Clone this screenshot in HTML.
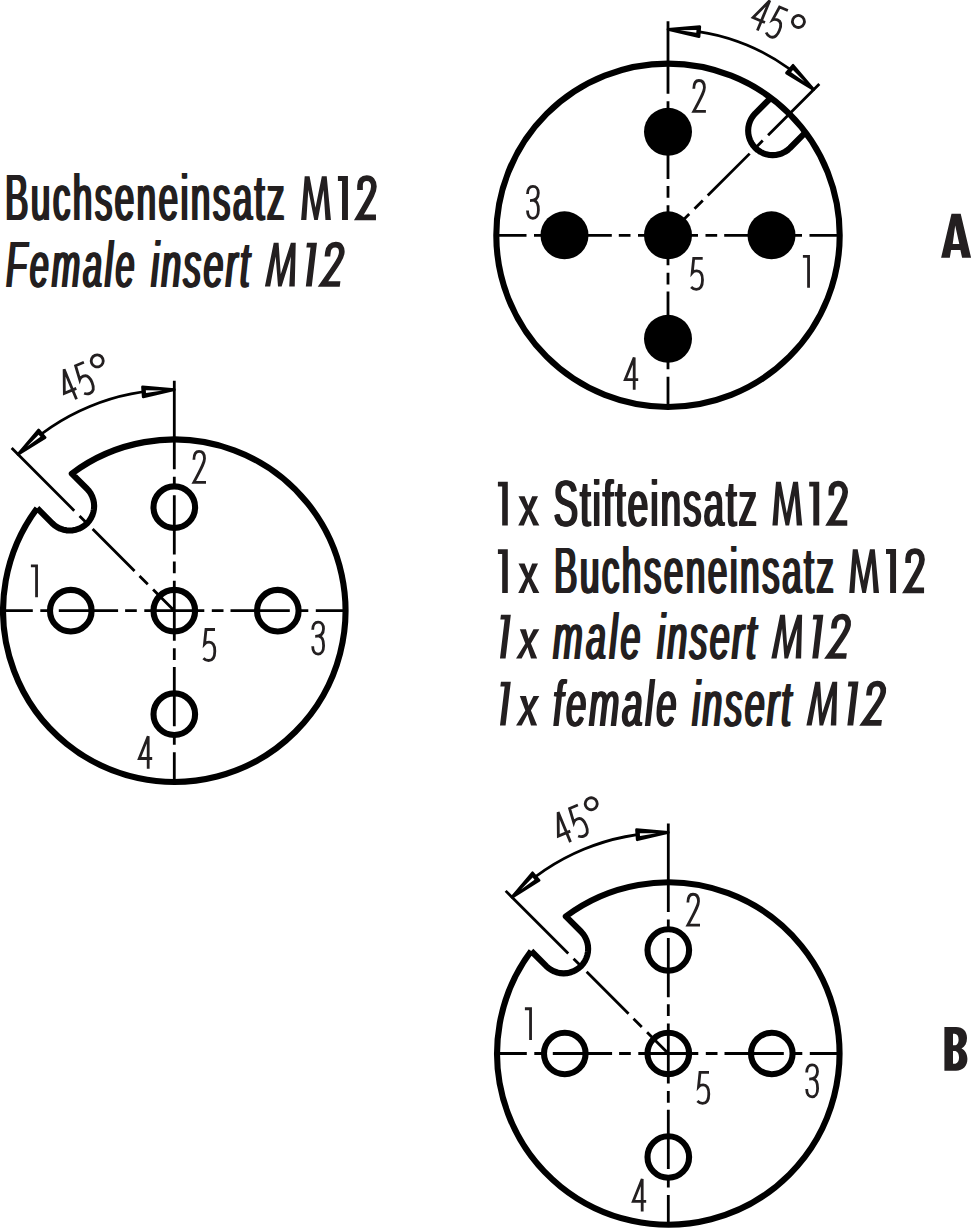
<!DOCTYPE html>
<html><head><meta charset="utf-8"><style>
html,body{margin:0;padding:0;background:#fff;width:972px;height:1229px;overflow:hidden}
svg{display:block}
</style></head><body>
<svg width="972" height="1229" viewBox="0 0 972 1229">
<g font-family="Liberation Sans, sans-serif" fill="#231f20"><text transform="translate(4.00,220.00) scale(0.5440,1)" font-size="64" letter-spacing="4.739">Buchseneinsatz</text><text transform="translate(4.77,220.00) scale(0.5440,1)" font-size="64" letter-spacing="4.739">Buchseneinsatz</text><text transform="translate(5.53,220.00) scale(0.5440,1)" font-size="64" letter-spacing="4.739">Buchseneinsatz</text><text transform="translate(6.30,220.00) scale(0.5440,1)" font-size="64" letter-spacing="4.739">Buchseneinsatz</text><text transform="translate(5.00,286.60) scale(0.5289,1)" font-size="64" letter-spacing="5.820" font-style="italic">Female</text><text transform="translate(5.77,286.60) scale(0.5289,1)" font-size="64" letter-spacing="5.820" font-style="italic">Female</text><text transform="translate(6.53,286.60) scale(0.5289,1)" font-size="64" letter-spacing="5.820" font-style="italic">Female</text><text transform="translate(7.30,286.60) scale(0.5289,1)" font-size="64" letter-spacing="5.820" font-style="italic">Female</text><text transform="translate(150.00,286.60) scale(0.5529,1)" font-size="64" letter-spacing="4.328" font-style="italic">insert</text><text transform="translate(150.77,286.60) scale(0.5529,1)" font-size="64" letter-spacing="4.328" font-style="italic">insert</text><text transform="translate(151.53,286.60) scale(0.5529,1)" font-size="64" letter-spacing="4.328" font-style="italic">insert</text><text transform="translate(152.30,286.60) scale(0.5529,1)" font-size="64" letter-spacing="4.328" font-style="italic">insert</text><text transform="translate(552.50,525.60) scale(0.5715,1)" font-size="64" letter-spacing="3.880">Stifteinsatz</text><text transform="translate(553.27,525.60) scale(0.5715,1)" font-size="64" letter-spacing="3.880">Stifteinsatz</text><text transform="translate(554.03,525.60) scale(0.5715,1)" font-size="64" letter-spacing="3.880">Stifteinsatz</text><text transform="translate(554.80,525.60) scale(0.5715,1)" font-size="64" letter-spacing="3.880">Stifteinsatz</text><text transform="translate(553.00,593.00) scale(0.5449,1)" font-size="64" letter-spacing="4.739">Buchseneinsatz</text><text transform="translate(553.77,593.00) scale(0.5449,1)" font-size="64" letter-spacing="4.739">Buchseneinsatz</text><text transform="translate(554.53,593.00) scale(0.5449,1)" font-size="64" letter-spacing="4.739">Buchseneinsatz</text><text transform="translate(555.30,593.00) scale(0.5449,1)" font-size="64" letter-spacing="4.739">Buchseneinsatz</text><text transform="translate(552.00,658.60) scale(0.5535,1)" font-size="64" letter-spacing="6.305" font-style="italic">male</text><text transform="translate(552.77,658.60) scale(0.5535,1)" font-size="64" letter-spacing="6.305" font-style="italic">male</text><text transform="translate(553.53,658.60) scale(0.5535,1)" font-size="64" letter-spacing="6.305" font-style="italic">male</text><text transform="translate(554.30,658.60) scale(0.5535,1)" font-size="64" letter-spacing="6.305" font-style="italic">male</text><text transform="translate(656.00,658.60) scale(0.5556,1)" font-size="64" letter-spacing="4.328" font-style="italic">insert</text><text transform="translate(656.77,658.60) scale(0.5556,1)" font-size="64" letter-spacing="4.328" font-style="italic">insert</text><text transform="translate(657.53,658.60) scale(0.5556,1)" font-size="64" letter-spacing="4.328" font-style="italic">insert</text><text transform="translate(658.30,658.60) scale(0.5556,1)" font-size="64" letter-spacing="4.328" font-style="italic">insert</text><text transform="translate(552.00,725.50) scale(0.5647,1)" font-size="64" letter-spacing="5.239" font-style="italic">female</text><text transform="translate(552.77,725.50) scale(0.5647,1)" font-size="64" letter-spacing="5.239" font-style="italic">female</text><text transform="translate(553.53,725.50) scale(0.5647,1)" font-size="64" letter-spacing="5.239" font-style="italic">female</text><text transform="translate(554.30,725.50) scale(0.5647,1)" font-size="64" letter-spacing="5.239" font-style="italic">female</text><text transform="translate(691.00,725.50) scale(0.5556,1)" font-size="64" letter-spacing="4.328" font-style="italic">insert</text><text transform="translate(691.77,725.50) scale(0.5556,1)" font-size="64" letter-spacing="4.328" font-style="italic">insert</text><text transform="translate(692.53,725.50) scale(0.5556,1)" font-size="64" letter-spacing="4.328" font-style="italic">insert</text><text transform="translate(693.30,725.50) scale(0.5556,1)" font-size="64" letter-spacing="4.328" font-style="italic">insert</text><g transform="translate(301.10,220.00)"><path d="M0 0L3.6 -43.81L8.47 -43.81L14.39 -12.27L20.74 -43.81L25.61 -43.81L29.84 0L24.34 0L22.43 -30.05L16.72 0L13.12 0L7.2 -30.05L5.29 0ZM36.81 -43.97H46.84V0H40.92V-39.09H36.81Z"/><path d="M58.92 -30.08V-34.5C58.92 -39.5 61.5 -41.9 65.6 -41.9C70 -41.9 72.8 -38.5 72.8 -33.5C72.8 -29 71 -25 57.8 -2.56H74.87" fill="none" stroke="#231f20" stroke-width="5.66" stroke-miterlimit="10"/></g><g transform="translate(264.90,286.60) skewX(-6.8)"><path d="M0 0L3.6 -43.81L8.47 -43.81L14.39 -12.27L20.74 -43.81L25.61 -43.81L29.84 0L24.34 0L22.43 -30.05L16.72 0L13.12 0L7.2 -30.05L5.29 0ZM36.81 -43.97H46.84V0H40.92V-39.09H36.81Z"/><path d="M58.92 -30.08V-34.5C58.92 -39.5 61.5 -41.9 65.6 -41.9C70 -41.9 72.8 -38.5 72.8 -33.5C72.8 -29 71 -25 57.8 -2.56H74.87" fill="none" stroke="#231f20" stroke-width="5.66" stroke-miterlimit="10"/></g><g transform="translate(772.40,525.60)"><path d="M0 0L3.6 -43.81L8.47 -43.81L14.39 -12.27L20.74 -43.81L25.61 -43.81L29.84 0L24.34 0L22.43 -30.05L16.72 0L13.12 0L7.2 -30.05L5.29 0ZM36.81 -43.97H46.84V0H40.92V-39.09H36.81Z"/><path d="M58.92 -30.08V-34.5C58.92 -39.5 61.5 -41.9 65.6 -41.9C70 -41.9 72.8 -38.5 72.8 -33.5C72.8 -29 71 -25 57.8 -2.56H74.87" fill="none" stroke="#231f20" stroke-width="5.66" stroke-miterlimit="10"/></g><g transform="translate(849.20,593.00)"><path d="M0 0L3.6 -43.81L8.47 -43.81L14.39 -12.27L20.74 -43.81L25.61 -43.81L29.84 0L24.34 0L22.43 -30.05L16.72 0L13.12 0L7.2 -30.05L5.29 0ZM36.81 -43.97H46.84V0H40.92V-39.09H36.81Z"/><path d="M58.92 -30.08V-34.5C58.92 -39.5 61.5 -41.9 65.6 -41.9C70 -41.9 72.8 -38.5 72.8 -33.5C72.8 -29 71 -25 57.8 -2.56H74.87" fill="none" stroke="#231f20" stroke-width="5.66" stroke-miterlimit="10"/></g><g transform="translate(771.30,658.60) skewX(-6.8)"><path d="M0 0L3.6 -43.81L8.47 -43.81L14.39 -12.27L20.74 -43.81L25.61 -43.81L29.84 0L24.34 0L22.43 -30.05L16.72 0L13.12 0L7.2 -30.05L5.29 0ZM36.81 -43.97H46.84V0H40.92V-39.09H36.81Z"/><path d="M58.92 -30.08V-34.5C58.92 -39.5 61.5 -41.9 65.6 -41.9C70 -41.9 72.8 -38.5 72.8 -33.5C72.8 -29 71 -25 57.8 -2.56H74.87" fill="none" stroke="#231f20" stroke-width="5.66" stroke-miterlimit="10"/></g><g transform="translate(806.40,725.50) skewX(-6.8)"><path d="M0 0L3.6 -43.81L8.47 -43.81L14.39 -12.27L20.74 -43.81L25.61 -43.81L29.84 0L24.34 0L22.43 -30.05L16.72 0L13.12 0L7.2 -30.05L5.29 0ZM36.81 -43.97H46.84V0H40.92V-39.09H36.81Z"/><path d="M58.92 -30.08V-34.5C58.92 -39.5 61.5 -41.9 65.6 -41.9C70 -41.9 72.8 -38.5 72.8 -33.5C72.8 -29 71 -25 57.8 -2.56H74.87" fill="none" stroke="#231f20" stroke-width="5.66" stroke-miterlimit="10"/></g><g transform="translate(497.90,525.60)"><path d="M0 -43.87H9.89V0H4.28V-39.06H0ZM20.59 -29.43L26.75 -29.43L30.49 -19.8L34.24 -29.43L40.12 -29.43L33.44 -14.98L41.46 0L35.31 0L30.49 -11.24L25.95 0L20.33 0L27.82 -14.98Z"/></g><g transform="translate(497.90,593.00)"><path d="M0 -43.87H9.89V0H4.28V-39.06H0ZM20.59 -29.43L26.75 -29.43L30.49 -19.8L34.24 -29.43L40.12 -29.43L33.44 -14.98L41.46 0L35.31 0L30.49 -11.24L25.95 0L20.33 0L27.82 -14.98Z"/></g><g transform="translate(495.70,658.60) skewX(-6.8)"><path d="M0 -43.87H9.89V0H4.28V-39.06H0ZM20.59 -29.43L26.75 -29.43L30.49 -19.8L34.24 -29.43L40.12 -29.43L33.44 -14.98L41.46 0L35.31 0L30.49 -11.24L25.95 0L20.33 0L27.82 -14.98Z"/></g><g transform="translate(495.70,725.50) skewX(-6.8)"><path d="M0 -43.87H9.89V0H4.28V-39.06H0ZM20.59 -29.43L26.75 -29.43L30.49 -19.8L34.24 -29.43L40.12 -29.43L33.44 -14.98L41.46 0L35.31 0L30.49 -11.24L25.95 0L20.33 0L27.82 -14.98Z"/></g></g>
<path d="M941.1 257.8L951.5 213.7L960.7 213.7L971.1 257.8L962.1 257.8L960.4 250L951.1 250L949.8 257.8Z M955.2 225.6L952.7 243.9L959.3 243.9Z" fill="#231f20" fill-rule="evenodd"/>
<path d="M944.4 1026.9H956C963 1026.9 967 1031 967 1038C967 1043 965 1046.5 961.5 1048.5C965.5 1050.5 967.4 1054.5 967.4 1059C967.4 1066 963 1070.7 956 1070.7H944.4Z M953 1033.7V1045.2H954.5C957 1045.2 958.6 1043 958.6 1039.4C958.6 1035.8 957 1033.7 954.5 1033.7Z M953 1051.1V1063.7H954.5C957.2 1063.7 959 1061.3 959 1057.4C959 1053.5 957.2 1051.1 954.5 1051.1Z" fill="#231f20" fill-rule="evenodd"/>
<path d="M668.00 235.30L698.00 235.30M705.50 235.30L717.20 235.30M724.20 235.30L783.50 235.30M793.00 235.30L802.00 235.30M809.50 235.30L839.70 235.30M668.00 235.30L638.00 235.30M630.50 235.30L618.80 235.30M611.80 235.30L552.50 235.30M543.00 235.30L534.00 235.30M526.50 235.30L496.30 235.30M668.00 235.30L668.00 265.30M668.00 272.80L668.00 284.50M668.00 291.50L668.00 350.80M668.00 360.30L668.00 369.30M668.00 376.80L668.00 407.00M668.00 235.30L668.00 205.30M668.00 197.80L668.00 186.10M668.00 179.10L668.00 119.80M668.00 110.30L668.00 101.30M668.00 93.80L668.00 21.30M668.00 235.30L689.21 214.09M694.52 208.78L702.79 200.51M707.74 195.56L749.67 153.63M756.39 146.91L762.75 140.55M768.06 135.24L819.32 83.98" stroke="#000" stroke-width="2.8" fill="none"/>
<circle cx="668.00" cy="235.30" r="171.70" fill="none" stroke="#000" stroke-width="6.1"/>
<path d="M805.49 132.46L789.98 147.97L787.57 150.09L784.90 151.87L782.03 153.28L778.99 154.31L775.85 154.94L772.65 155.15L769.45 154.94L766.31 154.31L763.28 153.28L760.40 151.87L757.74 150.09L755.33 147.97L753.21 145.56L751.43 142.90L750.02 140.02L748.99 136.99L748.36 133.85L748.15 130.65L748.36 127.45L748.99 124.31L750.02 121.27L751.43 118.40L753.21 115.73L755.33 113.32L770.84 97.81" fill="none" stroke="#000" stroke-width="6.1" stroke-linejoin="round"/>
<circle cx="668.00" cy="131.80" r="24" fill="#000"/>
<circle cx="771.50" cy="235.30" r="24" fill="#000"/>
<circle cx="668.00" cy="338.80" r="24" fill="#000"/>
<circle cx="564.50" cy="235.30" r="24" fill="#000"/>
<circle cx="668.00" cy="235.30" r="24" fill="#000"/>
<path d="M668.00 29.30A206.00 206.00 0 0 1 813.66 89.64" fill="none" stroke="#000" stroke-width="2.8"/>
<path d="M668.00 29.30L699.00 36.69L699.76 26.72Z" fill="#000" stroke="#000" stroke-width="2.8" stroke-linejoin="round"/>
<path d="M679.92 30.21L696.28 32.87L696.49 30.08Z" fill="#fff"/>
<path d="M813.66 89.64L793.03 65.35L786.52 72.94Z" fill="#000" stroke="#000" stroke-width="2.8" stroke-linejoin="round"/>
<path d="M804.59 81.85L792.97 70.04L791.14 72.16Z" fill="#fff"/>
<g fill="none" stroke="#231f20" stroke-width="2.8" stroke-linejoin="miter"><path transform="translate(691.90,79.05)" d="M1.9 9.8C1.9 4 4 1.45 7 1.45C10.5 1.45 12.5 4 12.5 8.5C12.5 12 11 15.5 1.8 32.35L14 32.35"/><path transform="translate(526.00,185.00)" d="M1.5 9C1.5 4 3.8 1.4 6.9 1.4C10.2 1.4 12.3 4 12.3 8C12.3 12.5 10.5 15.6 4 15.6M8 15.6C11 16 12.4 19 12.4 25C12.4 30.5 10 33.4 6.9 33.4C3.8 33.4 1.5 31 1.5 25.5"/><path transform="translate(690.30,256.50)" d="M12.4 1.8H3.4L1.9 16.3C3 15 4.5 14.4 6.5 14.4C10.5 14.4 12.2 18 12.2 23.5C12.2 29.5 9.8 32.8 6 32.8C4 32.8 2.3 32 0.8 30.5"/><path transform="translate(802.90,255.00)" d="M0 1.35H5.65V32.7"/><path transform="translate(623.80,356.60)" d="M14.4 23H1.45L10.4 0.8V33.2"/><g transform="translate(760.50,-4.20) rotate(22.5)"><path d="M14.4 23H1.45L10.4 0.8V33.2"/><path transform="translate(18.5,1.3)" d="M12.4 1.8H3.4L1.9 16.3C3 15 4.5 14.4 6.5 14.4C10.5 14.4 12.2 18 12.2 23.5C12.2 29.5 9.8 32.8 6 32.8C4 32.8 2.3 32 0.8 30.5"/><circle cx="44.85" cy="9.2" r="6"/></g></g>
<path d="M174.30 610.70L204.30 610.70M211.80 610.70L223.50 610.70M230.50 610.70L289.80 610.70M299.30 610.70L308.30 610.70M315.80 610.70L345.50 610.70M174.30 610.70L144.30 610.70M136.80 610.70L125.10 610.70M118.10 610.70L58.80 610.70M49.30 610.70L40.30 610.70M32.80 610.70L3.10 610.70M174.30 610.70L174.30 640.70M174.30 648.20L174.30 659.90M174.30 666.90L174.30 726.20M174.30 735.70L174.30 744.70M174.30 752.20L174.30 781.90M174.30 610.70L174.30 580.70M174.30 573.20L174.30 561.50M174.30 554.50L174.30 495.20M174.30 485.70L174.30 476.70M174.30 469.20L174.30 380.70M174.30 610.70L153.09 589.49M147.78 584.18L139.51 575.91M134.56 570.96L92.63 529.03M85.91 522.31L79.55 515.95M74.24 510.64L11.67 448.07" stroke="#000" stroke-width="2.8" fill="none"/>
<path d="M37.17 508.21A171.20 171.20 0 1 0 71.81 473.57L86.97 488.72L89.09 491.13L90.87 493.80L92.28 496.67L93.31 499.71L93.94 502.85L94.15 506.05L93.94 509.25L93.31 512.39L92.28 515.42L90.87 518.30L89.09 520.96L86.97 523.37L84.56 525.49L81.90 527.27L79.02 528.68L75.99 529.71L72.85 530.34L69.65 530.55L66.45 530.34L63.31 529.71L60.27 528.68L57.40 527.27L54.73 525.49L52.32 523.37L37.17 508.21" fill="none" stroke="#000" stroke-width="6.1" stroke-linejoin="round"/>
<circle cx="174.30" cy="507.20" r="20.8" fill="none" stroke="#000" stroke-width="6.1"/>
<circle cx="277.80" cy="610.70" r="20.8" fill="none" stroke="#000" stroke-width="6.1"/>
<circle cx="174.30" cy="714.20" r="20.8" fill="none" stroke="#000" stroke-width="6.1"/>
<circle cx="70.80" cy="610.70" r="20.8" fill="none" stroke="#000" stroke-width="6.1"/>
<circle cx="174.30" cy="610.70" r="20.8" fill="none" stroke="#000" stroke-width="6.1"/>
<path d="M174.30 389.70A221.00 221.00 0 0 0 18.03 454.43" fill="none" stroke="#000" stroke-width="2.8"/>
<path d="M174.30 389.70L142.55 386.95L143.26 396.93Z" fill="#000" stroke="#000" stroke-width="2.8" stroke-linejoin="round"/>
<path d="M162.37 390.55L145.80 390.33L146.00 393.12Z" fill="#fff"/>
<path d="M18.03 454.43L45.09 437.59L38.54 430.04Z" fill="#000" stroke="#000" stroke-width="2.8" stroke-linejoin="round"/>
<path d="M27.07 446.60L40.46 436.84L38.63 434.72Z" fill="#fff"/>
<g fill="none" stroke="#231f20" stroke-width="2.8" stroke-linejoin="miter"><path transform="translate(30.90,564.60)" d="M0 1.35H5.65V32.7"/><path transform="translate(192.00,450.00)" d="M1.9 9.8C1.9 4 4 1.45 7 1.45C10.5 1.45 12.5 4 12.5 8.5C12.5 12 11 15.5 1.8 32.35L14 32.35"/><path transform="translate(311.20,620.70)" d="M1.5 9C1.5 4 3.8 1.4 6.9 1.4C10.2 1.4 12.3 4 12.3 8C12.3 12.5 10.5 15.6 4 15.6M8 15.6C11 16 12.4 19 12.4 25C12.4 30.5 10 33.4 6.9 33.4C3.8 33.4 1.5 31 1.5 25.5"/><path transform="translate(202.60,627.70)" d="M12.4 1.8H3.4L1.9 16.3C3 15 4.5 14.4 6.5 14.4C10.5 14.4 12.2 18 12.2 23.5C12.2 29.5 9.8 32.8 6 32.8C4 32.8 2.3 32 0.8 30.5"/><path transform="translate(137.80,735.50)" d="M14.4 23H1.45L10.4 0.8V33.2"/><g transform="translate(54.20,372.60) rotate(-22.5)"><path d="M14.4 23H1.45L10.4 0.8V33.2"/><path transform="translate(19,0)" d="M12.4 1.8H3.4L1.9 16.3C3 15 4.5 14.4 6.5 14.4C10.5 14.4 12.2 18 12.2 23.5C12.2 29.5 9.8 32.8 6 32.8C4 32.8 2.3 32 0.8 30.5"/><circle cx="44.2" cy="5.7" r="6"/></g></g>
<path d="M668.30 1053.50L698.30 1053.50M705.80 1053.50L717.50 1053.50M724.50 1053.50L783.80 1053.50M793.30 1053.50L802.30 1053.50M809.80 1053.50L839.50 1053.50M668.30 1053.50L638.30 1053.50M630.80 1053.50L619.10 1053.50M612.10 1053.50L552.80 1053.50M543.30 1053.50L534.30 1053.50M526.80 1053.50L497.10 1053.50M668.30 1053.50L668.30 1083.50M668.30 1091.00L668.30 1102.70M668.30 1109.70L668.30 1169.00M668.30 1178.50L668.30 1187.50M668.30 1195.00L668.30 1224.70M668.30 1053.50L668.30 1023.50M668.30 1016.00L668.30 1004.30M668.30 997.30L668.30 938.00M668.30 928.50L668.30 919.50M668.30 912.00L668.30 823.50M668.30 1053.50L647.09 1032.29M641.78 1026.98L633.51 1018.71M628.56 1013.76L586.63 971.83M579.91 965.11L573.55 958.75M568.24 953.44L505.67 890.87" stroke="#000" stroke-width="2.8" fill="none"/>
<path d="M531.17 951.01A171.20 171.20 0 1 0 565.81 916.37L580.97 931.52L583.09 933.93L584.87 936.60L586.28 939.47L587.31 942.51L587.94 945.65L588.15 948.85L587.94 952.05L587.31 955.19L586.28 958.22L584.87 961.10L583.09 963.76L580.97 966.17L578.56 968.29L575.90 970.07L573.02 971.48L569.99 972.51L566.85 973.14L563.65 973.35L560.45 973.14L557.31 972.51L554.27 971.48L551.40 970.07L548.73 968.29L546.32 966.17L531.17 951.01" fill="none" stroke="#000" stroke-width="6.1" stroke-linejoin="round"/>
<circle cx="668.30" cy="950.00" r="20.8" fill="none" stroke="#000" stroke-width="6.1"/>
<circle cx="771.80" cy="1053.50" r="20.8" fill="none" stroke="#000" stroke-width="6.1"/>
<circle cx="668.30" cy="1157.00" r="20.8" fill="none" stroke="#000" stroke-width="6.1"/>
<circle cx="564.80" cy="1053.50" r="20.8" fill="none" stroke="#000" stroke-width="6.1"/>
<circle cx="668.30" cy="1053.50" r="20.8" fill="none" stroke="#000" stroke-width="6.1"/>
<path d="M668.30 832.50A221.00 221.00 0 0 0 512.03 897.23" fill="none" stroke="#000" stroke-width="2.8"/>
<path d="M668.30 832.50L636.55 829.75L637.26 839.73Z" fill="#000" stroke="#000" stroke-width="2.8" stroke-linejoin="round"/>
<path d="M656.37 833.35L639.80 833.13L640.00 835.92Z" fill="#fff"/>
<path d="M512.03 897.23L539.09 880.39L532.54 872.84Z" fill="#000" stroke="#000" stroke-width="2.8" stroke-linejoin="round"/>
<path d="M521.07 889.40L534.46 879.64L532.63 877.52Z" fill="#fff"/>
<g fill="none" stroke="#231f20" stroke-width="2.8" stroke-linejoin="miter"><path transform="translate(524.90,1007.40)" d="M0 1.35H5.65V32.7"/><path transform="translate(686.00,892.80)" d="M1.9 9.8C1.9 4 4 1.45 7 1.45C10.5 1.45 12.5 4 12.5 8.5C12.5 12 11 15.5 1.8 32.35L14 32.35"/><path transform="translate(805.20,1063.50)" d="M1.5 9C1.5 4 3.8 1.4 6.9 1.4C10.2 1.4 12.3 4 12.3 8C12.3 12.5 10.5 15.6 4 15.6M8 15.6C11 16 12.4 19 12.4 25C12.4 30.5 10 33.4 6.9 33.4C3.8 33.4 1.5 31 1.5 25.5"/><path transform="translate(696.60,1070.50)" d="M12.4 1.8H3.4L1.9 16.3C3 15 4.5 14.4 6.5 14.4C10.5 14.4 12.2 18 12.2 23.5C12.2 29.5 9.8 32.8 6 32.8C4 32.8 2.3 32 0.8 30.5"/><path transform="translate(631.80,1178.30)" d="M14.4 23H1.45L10.4 0.8V33.2"/><g transform="translate(548.20,815.40) rotate(-22.5)"><path d="M14.4 23H1.45L10.4 0.8V33.2"/><path transform="translate(19,0)" d="M12.4 1.8H3.4L1.9 16.3C3 15 4.5 14.4 6.5 14.4C10.5 14.4 12.2 18 12.2 23.5C12.2 29.5 9.8 32.8 6 32.8C4 32.8 2.3 32 0.8 30.5"/><circle cx="44.2" cy="5.7" r="6"/></g></g>
</svg>
</body></html>
